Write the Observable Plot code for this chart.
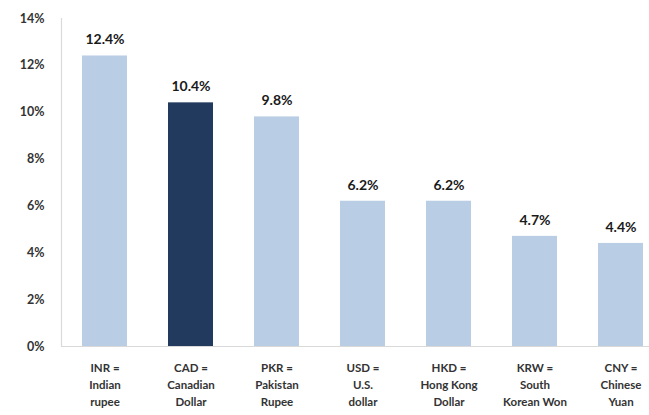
<!DOCTYPE html>
<html>
<head>
<meta charset="utf-8">
<script src="https://cdn.jsdelivr.net/npm/d3@7"></script>
<script src="https://cdn.jsdelivr.net/npm/@observablehq/plot@0.6"></script>
<style>
  html, body { margin: 0; padding: 0; background: #fff; }
  #chart { width: 649px; height: 415px; overflow: hidden; }
</style>
</head>
<body>
<div id="chart"></div>
<script>
const codes = ["INR", "CAD", "PKR", "USD", "HKD", "KRW", "CNY"];
const labels = [
  "INR =\nIndian\nrupee",
  "CAD =\nCanadian\nDollar",
  "PKR =\nPakistan\nRupee",
  "USD =\nU.S.\ndollar",
  "HKD =\nHong Kong\nDollar",
  "KRW =\nSouth\nKorean Won",
  "CNY =\nChinese\nYuan"
];
const values = [12.4, 10.4, 9.8, 6.2, 6.2, 4.7, 4.4];
const highlight = "CAD";
const yTicks = [0, 2, 4, 6, 8, 10, 12, 14];

const data = codes.map((c, i) => ({code: c, label: labels[i], value: values[i]}));
const labelOf = new Map(codes.map((c, i) => [c, labels[i]]));

const chart = Plot.plot({
  width: 649,
  height: 415,
  marginLeft: 61,
  marginRight: 0,
  marginTop: 18,
  marginBottom: 69,
  style: {fontFamily: "Lato, 'Open Sans', sans-serif", background: "#fff"},
  x: {domain: codes, range: [61, 663], paddingInner: 0.48, paddingOuter: 0.24, axis: null},
  y: {domain: [0, 14], ticks: yTicks, axis: null},
  marks: [
    Plot.frame({anchor: "left", stroke: "#d9d9d9", strokeWidth: 1.2}),
    Plot.barY(data, {x: "code", y: "value", fill: d => d.code === highlight ? "#223a5e" : "#b9cde5"}),
    Plot.ruleY([0], {stroke: "#d9d9d9", strokeWidth: 1.2}),
    Plot.text(data, {x: "code", y: "value", text: d => d.value.toFixed(1) + "%", dy: -16, fontSize: 14, fontWeight: "bold", fill: "#1a1a1a"}),
    Plot.axisY({ticks: yTicks, tickSize: 0, tickPadding: 17, tickFormat: d => d + "%", fontSize: 12.5, fontWeight: "bold", fill: "#333", label: null}),
    Plot.axisX({tickSize: 0, tickPadding: 14, tickFormat: d => labelOf.get(d), fontSize: 11.5, fontWeight: "bold", fill: "#333", lineHeight: 1.45, label: null})
  ]
});
document.getElementById("chart").appendChild(chart);
</script>
</body>
</html>
